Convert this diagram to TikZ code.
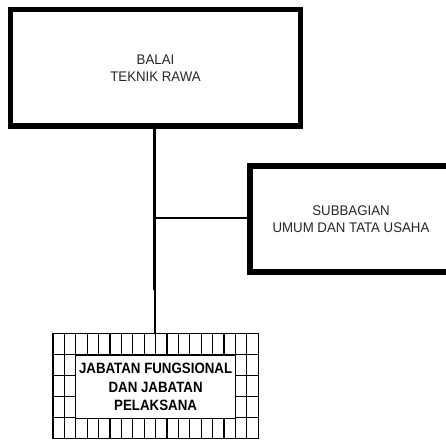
\documentclass[tikz,border=0pt]{standalone}
\usepackage{fontspec}
\newfontfamily\regf[FakeStretch=0.95]{Liberation Sans}
\newfontfamily\narrowb[FakeStretch=0.89]{Liberation Sans}
\begin{document}
\begin{tikzpicture}[x=1bp,y=-1bp,
  unitbox/.style={draw,line width=5.5bp,inner sep=0pt,align=center,
    font=\regf\fontsize{14}{17}\selectfont,text=black!85},
  gridline/.style={line width=1.2bp},
  conn/.style={line width=2.7bp}]
\useasboundingbox (0,0) rectangle (446,440);
\begin{scope}
\clip (0,0) rectangle (446,440);
% top box
\node[unitbox,minimum width=290bp,minimum height=116.5bp] (balai) at (155.5,67.75) {BALAI\\TEKNIK RAWA};
% right box
\node[unitbox,minimum width=202bp,minimum height=106bp] (subbag) at (351,219) {SUBBAGIAN\\UMUM DAN TATA USAHA};
\end{scope}
% grid box
\def\gx{53}\def\gy{333.5}\def\cw{11.4}\def\rh{21}
\node[draw,gridline,minimum width=205.2bp,minimum height=105bp,inner sep=0pt] (jf) at (155.6,386) {};
\foreach \i in {1,...,17}{
  \draw[gridline] (\gx+\i*\cw,\gy) -- (\gx+\i*\cw,\gy+5*\rh);
}
\foreach \j in {1,...,4}{
  \draw[gridline] (\gx,\gy+\j*\rh) -- (\gx+18*\cw,\gy+\j*\rh);
}
\node[draw,gridline,fill=white,minimum width=159.6bp,minimum height=63bp,inner sep=0pt,
  align=center,font=\narrowb\bfseries\fontsize{15}{18.5}\selectfont] (jftext) at (155.6,387)
  {JABATAN FUNGSIONAL\\DAN JABATAN\\PELAKSANA};
% connectors
\coordinate (bend) at (154.7,290);
\coordinate (branch) at (154.7,218);
\draw[conn] (balai.south -| bend) -- (bend);
\draw[line width=1.7bp] (155.2,290) -- (jf.north -| 155.2,0);
\draw[line width=2.6bp] (branch) -- (subbag.west |- branch);
\end{tikzpicture}
\end{document}
